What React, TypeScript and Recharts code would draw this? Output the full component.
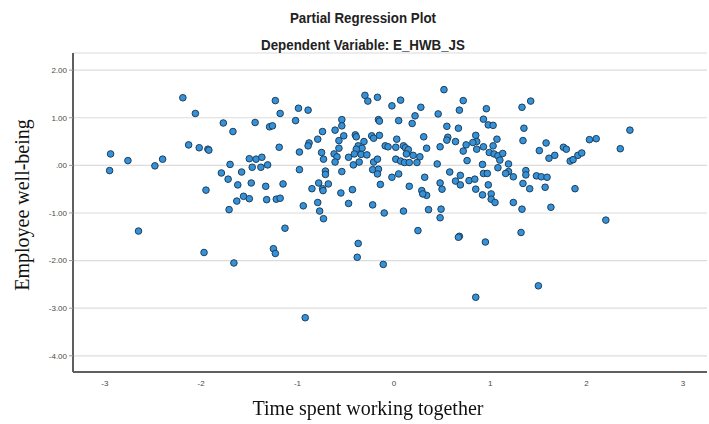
import React from "react";
import { CartesianGrid, Scatter, ScatterChart, XAxis, YAxis } from "recharts";

// Partial regression residuals: time spent working together (x) vs. employee well-being (y)
const timeTogether = [
  -2.19, -2.06, -1.23, -1.18, -1.77, -1.67, -1.44, -1.29, -1.26, -2.13, -2.02, -1.93, -1.92, -1.19,
  -2.94, -2.76, -2.4, -2.48, -2.95, -1.7, -1.5, -1.43, -1.37, -1.47, -1.38, -1.31, -1.79, -1.58,
  -1.72, -1.62, -1.48, -1.33, -1.15, -1.95, -1.56, -1.5, -1.63, -1.32, -1.22, -1.18, -1.71, -2.65,
  -1.13,
  -1.97, -1.66, -1.25, -1.23, -0.37, -0.38, -0.11, -0.92, 0.68, 0.67, 0.95, 1.32, 0.85, 1.5,
  -0.99, -0.89, -1.02, -0.3, -0.27, -0.17, -0.02, 0.07, 0.28, 0.52, 0.72, 0.68, 0.96, 0.46, 0.22,
  -0.54, -0.16, -0.15, 0.05, 0.19, 0.93, 0.98, 1.03, 0.55, 0.67, -0.54, -0.61, -0.74, -0.4, -0.52,
  -0.39, -0.23, -0.15, -0.21, 0.31, 0.56, 0.55, 0.64, 0.85, 0.86, 0.82, 1.07, -0.79, -0.88, -0.89,
  -0.57, -0.57, -0.31, -0.37, -0.33, -0.39, -0.09, -0.06, 0.02, 0.03, 0.1, 0.12, 0.15, 0.34, 0.48,
  0.75, 0.72, 0.93, 0.86, 1.03, 0.99, 1.04, 1.08, -0.98, -0.75, -0.73, -0.62, -0.59, -0.61, -0.47,
  -0.41, -0.34, -0.28, -0.42, -0.36, -0.21, -0.17, -0.22, -0.16, -0.17, 0.02, 0.07, 0.11, 0.16,
  0.13, 0.2, 0.27, 0.24, 0.45, 0.76, 0.92, 1.08, -0.98, -0.71, -0.71, -0.54, -0.78, -0.68, -0.85,
  -0.74, -0.735, -0.55, -0.43, -0.14, -0.02, 0.05, 0.16, 0.32, 0.58, 0.48, 0.5, 0.29, 0.34, 0.3,
  0.69, 0.64, 0.69, 0.78, 0.84, 0.93, 0.97, 0.98, 0.85, 0.92, 1.01, 1.01, -0.94, -0.79, -0.77,
  -0.73, -0.47, -0.22, -0.1, 0.1, 0.36, 0.49, 0.48, 0.25,
  1.33, 1.42, 1.35, 1.34, 1.13, 1.1, 1.19, 1.19, 1.16, 1.24, 1.37, 1.37, 1.51, 1.58, 1.61, 1.67,
  1.76, 1.79, 1.83, 1.86, 1.91, 1.95, 2.03, 2.1, 2.35, 2.45, 1.48, 1.53, 1.59, 1.57, 1.88, 1.34,
  1.41, 1.05, 1.24, 1.33, 1.63, 2.2,
];

const wellBeing = [
  1.42, 1.09, 1.36, 1.09, 0.89, 0.71, 0.9, 0.81, 0.83, 0.43, 0.37, 0.34, 0.32, 0.38,
  0.24, 0.1, 0.13, -0.01, -0.11, 0.02, 0.14, 0.13, 0.17, -0.04, -0.04, 0.01, -0.16, -0.14,
  -0.29, -0.41, -0.37, -0.44, -0.39, -0.52, -0.65, -0.7, -0.75, -0.72, -0.71, -0.69, -0.93, -1.38,
  -1.32,
  -1.83, -2.05, -1.75, -1.85, -1.64, -1.93, -2.08, -3.2, -1.49, -1.51, -1.61, -1.41, -2.77, -2.53,
  1.2, 1.16, 0.94, 1.47, 1.35, 1.43, 1.25, 1.37, 1.22, 1.59, 1.36, 1.16, 1.19, 1.08, 1.04,
  0.96, 0.96, 0.93, 0.94, 0.88, 0.97, 0.85, 0.84, 0.82, 0.78, 0.83, 0.74, 0.71, 0.64, 0.62,
  0.6, 0.62, 0.63, 0.57, 0.6, 0.59, 0.53, 0.5, 0.63, 0.5, 0.48, 0.55, 0.55, 0.47, 0.41,
  0.52, 0.36, 0.5, 0.41, 0.36, 0.34, 0.41, 0.39, 0.38, 0.55, 0.41, 0.37, 0.33, 0.36, 0.39,
  0.43, 0.3, 0.39, 0.34, 0.41, 0.27, 0.24, 0.2, 0.28, 0.27, 0.13, 0.24, 0.18, 0.07, 0.17,
  0.24, 0.23, 0.22, 0.01, 0.07, 0.07, 0.13, -0.09, -0.08, -0.18, 0.13, 0.09, 0.06, 0.06,
  0.24, 0.21, 0.18, 0.06, 0.03, 0.1, 0.02, -0.05, -0.09, -0.12, -0.19, -0.13, -0.37, -0.39, -0.49,
  -0.49, -0.53, -0.58, -0.51, -0.4, -0.25, -0.18, -0.44, -0.25, -0.14, -0.37, -0.5, -0.53, -0.63, -0.6,
  -0.21, -0.33, -0.41, -0.32, -0.29, -0.17, -0.17, -0.41, -0.5, -0.62, -0.6, -0.71, -0.85, -0.78, -0.96,
  -1.12, -0.8, -0.83, -1.0, -0.96, -0.93, -0.92, -1.1, -1.37,
  1.22, 1.35, 0.78, 0.52, 0.25, 0.11, 0.03, -0.13, -0.17, -0.24, -0.11, -0.2, 0.31, 0.47, 0.15, 0.21,
  0.38, 0.34, 0.09, 0.12, 0.21, 0.26, 0.54, 0.56, 0.35, 0.74, -0.22, -0.24, -0.25, -0.46, -0.49, -0.38,
  -0.49, -0.78, -0.78, -0.92, -0.88, -1.15,
];

const xTicks = [-3, -2, -1, 0, 1, 2, 3];
const yTicks = [-4, -3, -2, -1, 0, 1, 2];

const points = timeTogether.map((x, i) => ({ x, y: wellBeing[i] }));

const AXIS = "#5f5f5f";
const GRID = "#dcdcdc";
const TICK = "#4a4a4a";
const DOT_FILL = "#3592d8";
const DOT_EDGE = "#1e3f5c";
const NARROW = '"Liberation Sans Narrow", "Arial Narrow", "Liberation Sans", Arial, sans-serif';
const SERIF = '"Liberation Serif", "Times New Roman", serif';

// SPSS-style labels: 0 prints as ".00"
const fmtY = (v: number) => (v === 0 ? ".00" : v.toFixed(2));

const Dot = (props: any) => (
  <circle cx={props.cx} cy={props.cy} r={3.3} fill={DOT_FILL} stroke={DOT_EDGE} strokeWidth={1} />
);

// condensed bold heading, squeezed horizontally since no narrow face is installed
const headingStyle: React.CSSProperties = {
  position: "absolute",
  left: 0,
  width: 726,
  textAlign: "center",
  fontFamily: NARROW,
  fontWeight: "bold",
  fontSize: 14.5,
  color: "#222",
  lineHeight: "18px",
  transform: "scaleX(0.92)",
  transformOrigin: "363px 0",
};

export default function App() {
  return (
    <div style={{ position: "fixed", left: 0, top: 0, width: 709, height: 424, background: "#fff" }}>
      <ScatterChart width={709} height={424} margin={{ top: 53, right: 2, bottom: 0, left: 0 }}>
        <CartesianGrid vertical={false} stroke={GRID} strokeWidth={1.2} />
        <XAxis
          type="number"
          dataKey="x"
          domain={[-3.33, 3.25]}
          ticks={xTicks}
          allowDataOverflow
          height={52}
          axisLine={{ stroke: AXIS, strokeWidth: 2 }}
          tickLine={false}
          tickSize={0}
          tickMargin={8}
          tick={{ fill: TICK, fontSize: 8, fontFamily: NARROW }}
        />
        <YAxis
          type="number"
          dataKey="y"
          domain={[-4.34, 2.36]}
          ticks={yTicks}
          allowDataOverflow
          width={73}
          tickFormatter={fmtY}
          axisLine={{ stroke: AXIS, strokeWidth: 2 }}
          tickLine={{ stroke: "#9a9a9a" }}
          tickSize={4}
          tickMargin={2}
          tick={{ fill: TICK, fontSize: 8, fontFamily: NARROW }}
        />
        <Scatter data={points} shape={Dot} isAnimationActive={false} />
      </ScatterChart>

      <div style={{ ...headingStyle, top: 9 }}>Partial Regression Plot</div>
      <div style={{ ...headingStyle, top: 36 }}>Dependent Variable: E_HWB_JS</div>
      <div
        style={{
          position: "absolute",
          left: 0,
          width: 736,
          top: 396,
          textAlign: "center",
          fontFamily: SERIF,
          fontSize: 20,
          color: "#111",
          lineHeight: "24px",
        }}
      >
        Time spent working together
      </div>
      <div
        style={{
          position: "absolute",
          left: 22,
          top: 205,
          transform: "translate(-50%, -50%) rotate(-90deg)",
          whiteSpace: "nowrap",
          fontFamily: SERIF,
          fontSize: 20,
          color: "#111",
          lineHeight: "24px",
        }}
      >
        Employee well-being
      </div>
    </div>
  );
}
